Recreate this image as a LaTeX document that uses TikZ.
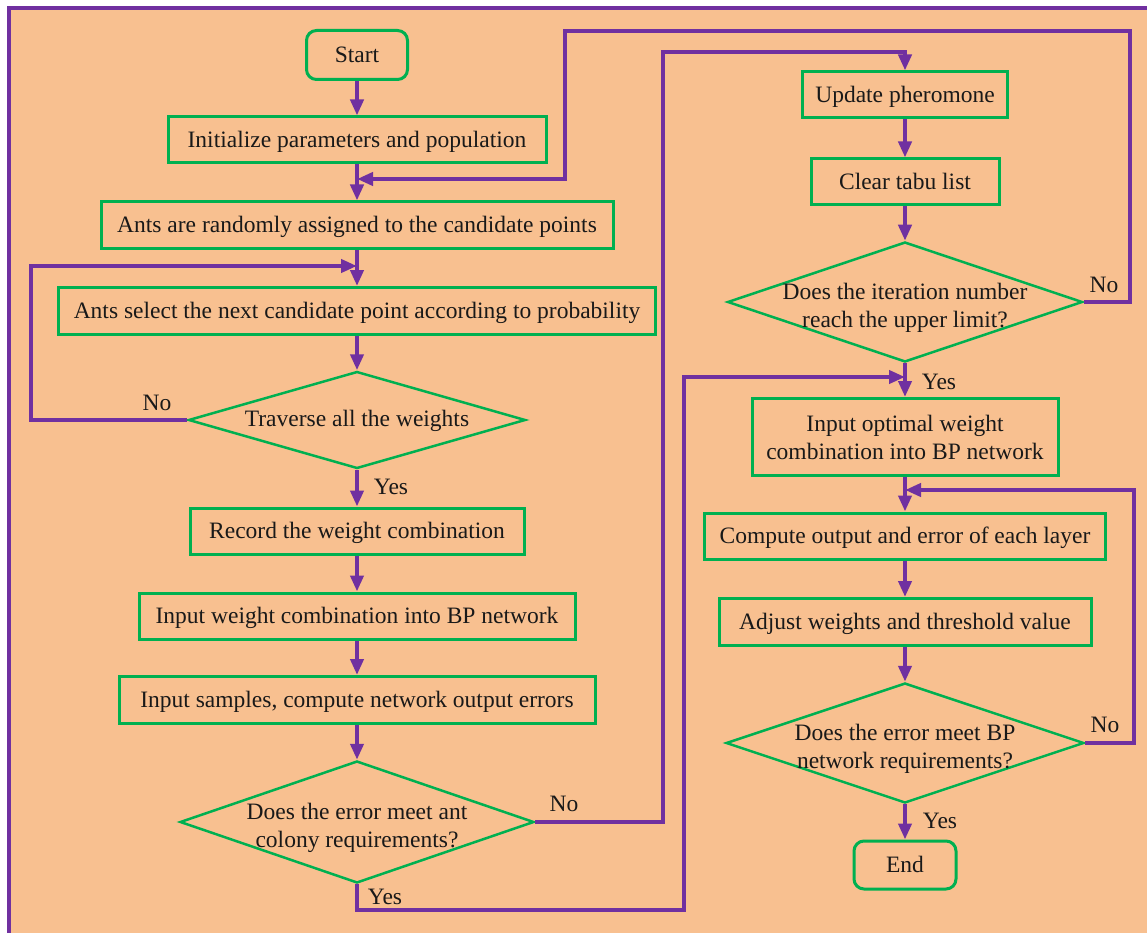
\documentclass[tikz,border=0pt]{standalone}
\usepackage{fontspec}
\setmainfont{Liberation Serif}
\usetikzlibrary{shapes.geometric,arrows.meta}
\definecolor{peach}{HTML}{F8C090}
\definecolor{fpurple}{HTML}{7030A0}
\definecolor{fgreen}{HTML}{00B050}
\begin{document}
\begin{tikzpicture}[x=1pt,y=-1pt,
  every node/.style={font=\fontsize{23.5}{28}\selectfont, text=black!90},
  box/.style={draw=fgreen, line width=3pt, minimum height=46pt, inner sep=0pt, align=center},
  onel/.style={text height=20pt, text depth=5pt},
  term/.style={box, onel, rounded corners=10pt},
  dia/.style={draw=fgreen, line width=2.5pt, diamond, inner sep=0pt},
  dtext/.style={inner sep=0pt, align=center},
  lab/.style={inner sep=0pt},
  arr/.style={draw=fpurple, line width=4pt, -{Triangle[length=16pt,width=13pt]}},
]
\useasboundingbox (0,0) rectangle (1147,933);
\fill[peach] (9,8) rectangle (1170,950);
\draw[fpurple, line width=4pt] (9,8) rectangle (1170,950);

% left column
\node[term, minimum width=101pt, minimum height=49pt] (start) at (357,55) {Start};
\node[box, onel, minimum width=378pt] (init) at (357,140) {Initialize parameters and population};
\node[box, onel, minimum width=512pt] (rand) at (357,225) {Ants are randomly assigned to the candidate points};
\node[box, onel, minimum width=597pt, minimum height=47pt] (sel) at (357,311) {Ants select the next candidate point according to probability};
\node[dia, minimum width=337pt, minimum height=97pt] (trav) at (357,420) {};
\node[dtext] (travt) at (357,421) {Traverse all the weights};
\node[box, onel, minimum width=334pt] (rec) at (357,531) {Record the weight combination};
\node[box, onel, minimum width=436pt] (inw) at (357,616) {Input weight combination into BP network};
\node[box, onel, minimum width=476pt, minimum height=47pt] (samp) at (357,700) {Input samples, compute network output errors};
\node[dia, minimum width=354pt, minimum height=122pt] (col) at (357,822) {};
\node[dtext] (colt) at (357,828) {Does the error meet ant\\colony requirements?};

% right column
\node[box, onel, minimum width=205pt] (upd) at (905,95) {Update pheromone};
\node[box, onel, minimum width=188pt] (clr) at (905,182) {Clear tabu list};
\node[dia, minimum width=355pt, minimum height=120pt] (iter) at (905,302) {};
\node[dtext] (itert) at (905,308) {Does the iteration number\\reach the upper limit?};
\node[box, minimum width=306pt, minimum height=77pt] (opt) at (905,437) {Input optimal weight\\combination into BP network};
\node[box, onel, minimum width=401pt] (comp) at (905,536) {Compute output and error of each layer};
\node[box, onel, minimum width=372pt, minimum height=47pt] (adj) at (905,622) {Adjust weights and threshold value};
\node[dia, minimum width=358pt, minimum height=120pt] (bp) at (905,743) {};
\node[dtext] (bpt) at (905,749) {Does the error meet BP\\network requirements?};
\node[term, minimum width=102pt, minimum height=48pt] (endn) at (905,865) {End};

% join points and corners
\coordinate (j1) at (357,179);
\coordinate (j2) at (357,266);
\coordinate (j3) at (905,377);
\coordinate (j4) at (905,490);
\coordinate (k1) at (31,266);
\coordinate (k2) at (1130,31);
\coordinate (k3) at (565,179);
\coordinate (k4) at (663,52);
\coordinate (k5) at (684,910);
\coordinate (k6) at (1134,490);

% straight connectors
\draw[arr] (start) -- (init);
\draw[arr] (init) -- (rand);
\draw[arr] (rand) -- (sel);
\draw[arr] (sel) -- (trav);
\draw[arr] (trav) -- (rec);
\draw[arr] (rec) -- (inw);
\draw[arr] (inw) -- (samp);
\draw[arr] (samp) -- (col);
\draw[arr] (upd) -- (clr);
\draw[arr] (clr) -- (iter);
\draw[arr] (iter) -- (opt);
\draw[arr] (opt) -- (comp);
\draw[arr] (comp) -- (adj);
\draw[arr] (adj) -- (bp);
\draw[arr] (bp) -- (endn);

% loops
\draw[arr] (trav.west) -| (k1) -- (j2);
\draw[arr] (iter.east) -| (k2) -| (k3) -- (j1);
\draw[arr] (col.east) -| (k4) -| (upd.north);
\draw[arr] (col.south) |- (k5) |- (j3);
\draw[arr] (bp.east) -| (k6) -- (j4);

% labels
\node[lab] (l1) at (157,403) {No};
\node[lab] (l2) at (391,487) {Yes};
\node[lab] (l3) at (564,804) {No};
\node[lab] (l4) at (385,897) {Yes};
\node[lab] (l5) at (1104,285) {No};
\node[lab] (l6) at (939,382) {Yes};
\node[lab] (l7) at (1105,725) {No};
\node[lab] (l8) at (940,821) {Yes};
\end{tikzpicture}
\end{document}
